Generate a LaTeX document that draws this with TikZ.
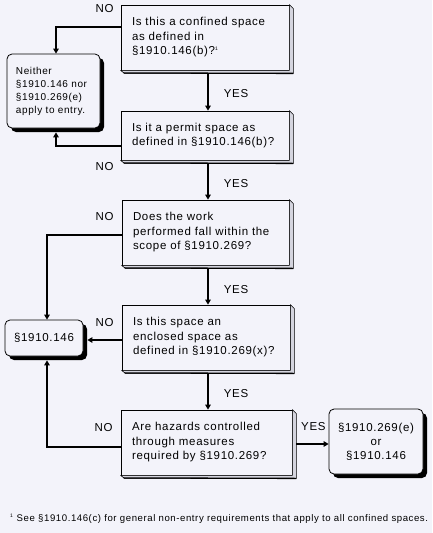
\documentclass[tikz,border=0pt]{standalone}
\usepackage{fontspec}
\setmainfont{Liberation Sans}
\newfontfamily\spaced[LetterSpace=6]{Liberation Sans}
\usetikzlibrary{calc,arrows.meta,shadows}
\definecolor{bg}{RGB}{243,243,250}
\definecolor{side}{RGB}{212,212,222}
\newcommand\myextrude[1]{%
  \draw[fill=side, line width=0.6pt, line join=round] (#1.north east) -- ++(4,4) -- ($(#1.south east)+(4,3)$) -- ($(#1.south west)+(4,3)$) -- (#1.south west) -- (#1.south east) -- cycle;
  \draw[line width=1.3pt] ($(#1.south west)+(3,2.5)$) -- ($(#1.south east)+(4,3)$);}
\begin{document}
\begin{tikzpicture}[x=1pt,y=-1pt,
  qbox/.style={draw, line width=0.8pt, fill=bg, align=left, inner xsep=11pt, inner ysep=0pt,
     font=\spaced\fontsize{11.5}{14.5}\selectfont},
  rbox/.style={draw, line width=0.8pt, fill=bg, rounded corners=5pt, inner sep=0pt,
     drop shadow={shadow xshift=4pt, shadow yshift=-4pt, fill=black, opacity=1}},
  conn/.style={line width=1.6pt, -{Triangle[length=5pt,width=5.5pt]}},
  lab/.style={inner sep=0pt, font=\spaced\fontsize{11.5}{13}\selectfont}]
\useasboundingbox[fill=bg] (0,0) rectangle (432,533);
% question boxes
\node[qbox, text width=146pt, minimum height=65pt] (q1) at (205,37.5)
  {Is this a confined space\\as defined in\\§1910.146(b)?\textsuperscript{\fontsize{5}{5}\selectfont 1}};
\node[qbox, text width=146pt, minimum height=49pt] (q2) at (205,135.5)
  {Is it a permit space as\\defined in §1910.146(b)?};
\node[qbox, text width=145pt, minimum height=65pt] (q3) at (205.5,232.5)
  {Does the work\\performed fall within the\\scope of §1910.269?};
\node[qbox, text width=146pt, minimum height=65pt] (q4) at (206,337.5)
  {Is this space an\\enclosed space as\\defined in §1910.269(x)?};
\node[qbox, text width=149pt, minimum height=65pt] (q5) at (206.5,442.5)
  {Are hazards controlled\\through measures\\required by §1910.269?};
\myextrude{q1}\myextrude{q2}\myextrude{q3}\myextrude{q4}\myextrude{q5}
% result boxes
\node[rbox, minimum width=93pt, minimum height=74pt, align=left, text width=75pt, inner xsep=9pt,
  font=\spaced\fontsize{10}{13}\selectfont] (nei) at (53.5,91)
  {Neither\\§1910.146 nor\\§1910.269(e)\\apply to entry.};
\node[rbox, minimum width=78pt, minimum height=36pt, font=\spaced\fontsize{11.5}{14}\selectfont] (sec) at (44,338) {§1910.146};
\node[rbox, minimum width=94pt, minimum height=65pt, align=center, font=\spaced\fontsize{11.5}{14}\selectfont] (fin) at (376,441.5)
  {§1910.269(e)\\or\\§1910.146};
% connectors
\draw[conn] ($(q1.west)+(0,-10.5)$) -| ($(nei.north)+(2.5,0)$);
\draw[conn] ($(q2.west)+(0,10.5)$) -| ($(nei.south)+(2.5,4)$);
\draw[conn] ($(q1.south)+(3,3)$) -- ($(q2.north)+(3,0)$);
\draw[conn] ($(q2.south)+(3,3)$) -- ($(q3.north)+(2.5,0)$);
\draw[conn] ($(q3.west)+(0,2.5)$) -| ($(sec.north)+(3,0)$);
\draw[conn] ($(q3.south)+(2.5,3)$) -- ($(q4.north)+(2,0)$);
\draw[conn] ($(q4.west)+(0,2.5)$) -- ($(q4.west -| sec.east)+(4,2.5)$);
\draw[conn] ($(q4.south)+(2,3)$) -- ($(q5.north)+(1.5,0)$);
\draw[conn] ($(q5.west)+(0,4.5)$) -| ($(sec.south)+(3,4)$);
\draw[conn] ($(q5.east)+(4,1.5)$) -- ($(q5.east -| fin.west)+(0,1.5)$);
% labels
\node[lab] (no1) at ($(q1.north west)+(-16,4)$) {NO};
\node[lab] (no2) at ($(q2.south west)+(-16,6)$) {NO};
\node[lab] (no3) at ($(q3.north west)+(-17,17)$) {NO};
\node[lab] (no4) at ($(q4.north west)+(-17,18)$) {NO};
\node[lab] (no5) at ($(q5.north west)+(-17,18)$) {NO};
\node[lab] (yes1) at ($(q1.south)+(31,23)$) {YES};
\node[lab] (yes2) at ($(q2.south)+(31,23)$) {YES};
\node[lab] (yes3) at ($(q3.south)+(30.5,24)$) {YES};
\node[lab] (yes4) at ($(q4.south)+(30,23)$) {YES};
\node[lab] (yes5) at ($(q5.east)+(21,-15.5)$) {YES};
% footnote
\node[anchor=base west, inner sep=0pt, font=\spaced\fontsize{9.6}{11}\selectfont] (fn) at (10,521)
  {\textsuperscript{\fontsize{5}{5}\selectfont 1} See §1910.146(c) for general non-entry requirements that apply to all confined spaces.};
\end{tikzpicture}
\end{document}
